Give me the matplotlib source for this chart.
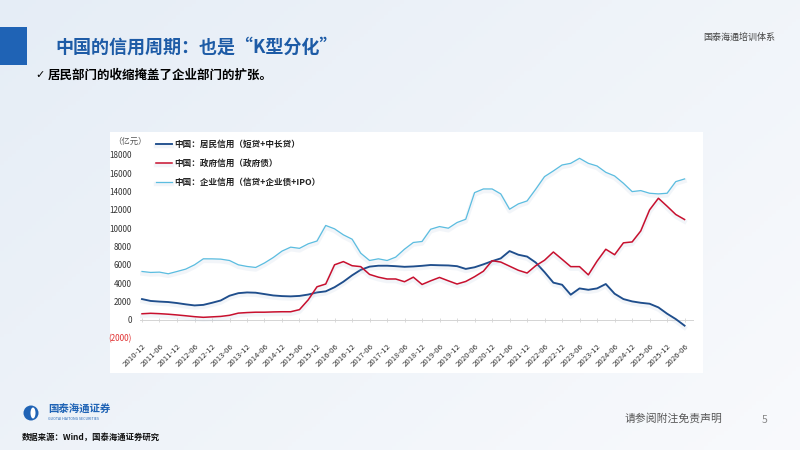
import numpy as np
import pandas as pd
import matplotlib
matplotlib.use("Agg")
import matplotlib.pyplot as plt
import matplotlib.dates as mdates
import matplotlib.patheffects as pe
from matplotlib.patches import Rectangle, Ellipse
from matplotlib.ticker import FuncFormatter

plt.rcParams['font.family'] = ['Noto Sans CJK SC', 'DejaVu Sans']
plt.rcParams['axes.unicode_minus'] = False

# 季度数据（亿元），2010-12 至 2026-06
dates = pd.date_range('2010-12-01', '2026-06-01', freq='3MS')

household = [2255, 2050, 1980, 1930, 1820, 1680, 1560, 1620, 1850, 2100, 2620, 2900, 2980, 2950, 2800, 2650,
             2580, 2550, 2600, 2750, 2980, 3100, 3550, 4150, 4850, 5450, 5800, 5900, 5900, 5850, 5780, 5820,
             5890, 5980, 5950, 5930, 5850, 5550, 5730, 6050, 6400, 6700, 7500, 7100, 6900, 6250, 5200, 4050,
             3820, 2730, 3420, 3270, 3420, 3900, 2840, 2255, 2000, 1850, 1745, 1345, 655, 70, -650]

government = [650, 700, 660, 600, 520, 430, 330, 260, 310, 360, 480, 720, 780, 820, 820, 850,
              870, 870, 1100, 2180, 3600, 3900, 6000, 6350, 5900, 5800, 4950, 4650, 4450, 4450, 4150, 4650,
              3850, 4250, 4620, 4250, 3900, 4180, 4700, 5300, 6450, 6300, 5850, 5400, 5100, 5900, 6500, 7400,
              6600, 5800, 5800, 4900, 6400, 7700, 7100, 8400, 8500, 9700, 12000, 13275, 12400, 11500, 10950]

corporate = [5270, 5165, 5200, 5020, 5270, 5530, 6000, 6655, 6650, 6620, 6470, 6000, 5820, 5710, 6200, 6800,
             7500, 7930, 7800, 8300, 8600, 10300, 9930, 9275, 8800, 7270, 6470, 6655, 6470, 6840, 7710, 8440,
             8550, 9890, 10180, 10000, 10620, 10980, 13890, 14290, 14290, 13750, 12075, 12660, 12980, 14260, 15640, 16260,
             16910, 17090, 17640, 17090, 16800, 16110, 15710, 14910, 14000, 14110, 13820, 13750, 13820, 15090, 15385]

labels = ['中国：居民信用（短贷+中长贷）', '中国：政府信用（政府债）', '中国：企业信用（信贷+企业债+IPO）']
colors = ['#1f4e8c', '#c8102e', '#5bbde0']
widths = [1.35, 1.1, 0.9]

W, H = 800, 450
fig = plt.figure(figsize=(8, 4.5), dpi=100)

# 背景渐变 + 装饰块（放在底层坐标系里，坐标即画布比例）
bg = fig.add_axes([0, 0, 1, 1], zorder=-10)
gx = np.linspace(0, 1, 200)
gy = np.linspace(0, 1, 120)
GX, GY = np.meshgrid(gx, gy)
c0 = np.array([0.90, 0.93, 0.965])
c1 = np.array([0.975, 0.98, 0.99])
t = np.clip(0.6 * GX + 0.4 * GY, 0, 1)[..., None]
bg.imshow(c0 * (1 - t) + c1 * t, extent=[0, 1, 0, 1], aspect='auto', origin='upper')
bg.set_xlim(0, 1)
bg.set_ylim(0, 1)
bg.axis('off')

bg.add_patch(Rectangle((0, 1 - 65 / H), 27 / W, 38 / H, facecolor='#1f63b5', edgecolor='none'))
bg.add_patch(Rectangle((110 / W, 1 - 373 / H), 593 / W, 241 / H, facecolor='white', edgecolor='none'))
bg.add_patch(Ellipse((31 / W, 1 - 413 / H), 15 / W, 15 / H, facecolor='#1f63b5', edgecolor='none'))
bg.add_patch(Ellipse((33 / W, 1 - 413 / H), 5 / W, 11 / H, facecolor='white', edgecolor='none'))

fig.text(55 / W, 1 - 47 / H, '中国的信用周期：也是“K型分化”', fontsize=13, fontweight='bold',
         color='#1d5ba6', va='center', ha='left')
fig.text(35 / W, 1 - 75 / H, '✓', fontsize=8, color='black', va='center', ha='left',
         family=['DejaVu Sans'])
fig.text(48 / W, 1 - 75 / H, '居民部门的收缩掩盖了企业部门的扩张。', fontsize=9, fontweight='bold',
         color='black', va='center', ha='left')
fig.text(775 / W, 1 - 37 / H, '国泰海通培训体系', fontsize=6.5, color='#444444', va='center', ha='right')

ax = fig.add_axes([140 / W, 1 - 338 / H, 553 / W, 183 / H], zorder=2)
ax.set_facecolor('none')

shadow = [pe.SimpleLineShadow(offset=(0, -1.5), shadow_color='#a8bfd8', alpha=0.14, linewidth=3.2), pe.Normal()]
for series, lab, col, lw in zip([household, government, corporate], labels, colors, widths):
    ax.plot(dates, series, color=col, lw=lw, label=lab, path_effects=shadow)

ax.set_ylim(-2000, 18000)
ax.set_xlim(pd.Timestamp('2010-11-10'), pd.Timestamp('2026-08-28'))
ax.set_yticks(range(-2000, 18001, 2000))
ax.yaxis.set_major_formatter(FuncFormatter(lambda v, p: f'({abs(int(v))})' if v < 0 else f'{int(v)}'))
ax.tick_params(axis='y', length=0, pad=6, labelsize=5.8, labelcolor='#333333')
fig.canvas.draw()
for tl in ax.get_yticklabels():
    if tl.get_text().startswith('('):
        tl.set_color('#e03030')

ax.xaxis.set_major_locator(mdates.MonthLocator(bymonth=[6, 12]))
ax.xaxis.set_major_formatter(mdates.DateFormatter('%Y-%m'))
ax.tick_params(axis='x', length=0, pad=3, labelsize=5.6, labelcolor='#333333')
for tl in ax.get_xticklabels():
    tl.set_rotation(45)
    tl.set_ha('right')
    tl.set_rotation_mode('anchor')

for s in ax.spines.values():
    s.set_visible(False)

# 零轴
zero = ax.secondary_xaxis(0.1)
zero.xaxis.set_major_locator(mdates.MonthLocator(bymonth=[6, 12]))
zero.tick_params(axis='x', labelbottom=False, length=2.5, direction='inout', color='#d4d4d4', width=0.6)
zero.spines['bottom'].set_color('#d4d4d4')
zero.spines['bottom'].set_linewidth(0.7)

ax.text(-0.018, 1.0765, '（亿元）', transform=ax.transAxes, fontsize=6, color='#555555',
        ha='center', va='center')

leg = ax.legend(loc='upper left', bbox_to_anchor=(156 / W, 1 - 140 / H), bbox_transform=fig.transFigure,
                frameon=False, fontsize=6.2, handlelength=1.9, handletextpad=0.2, labelspacing=1.15,
                borderaxespad=0, borderpad=0)
for txt in leg.get_texts():
    txt.set_fontweight('bold')
    txt.set_color('#222222')

# 页脚
fig.text(48 / W, 1 - 410 / H, '国泰海通证券', fontsize=7.5, fontweight='bold', color='#1f63b5',
         va='center', ha='left')
fig.text(48 / W, 1 - 419.5 / H, 'GUOTAI HAITONG SECURITIES', fontsize=2.6, color='#1f63b5',
         va='center', ha='left')
fig.text(22 / W, 1 - 437 / H, '数据来源：Wind，国泰海通证券研究', fontsize=6, fontweight='bold',
         color='#111111', va='center', ha='left')
fig.text(625 / W, 1 - 418 / H, '请参阅附注免责声明', fontsize=7.8, color='#555555', va='center', ha='left')
fig.text(765 / W, 1 - 420 / H, '5', fontsize=7.5, color='#888888', va='center', ha='center')

fig.savefig('out.png', dpi=100)
